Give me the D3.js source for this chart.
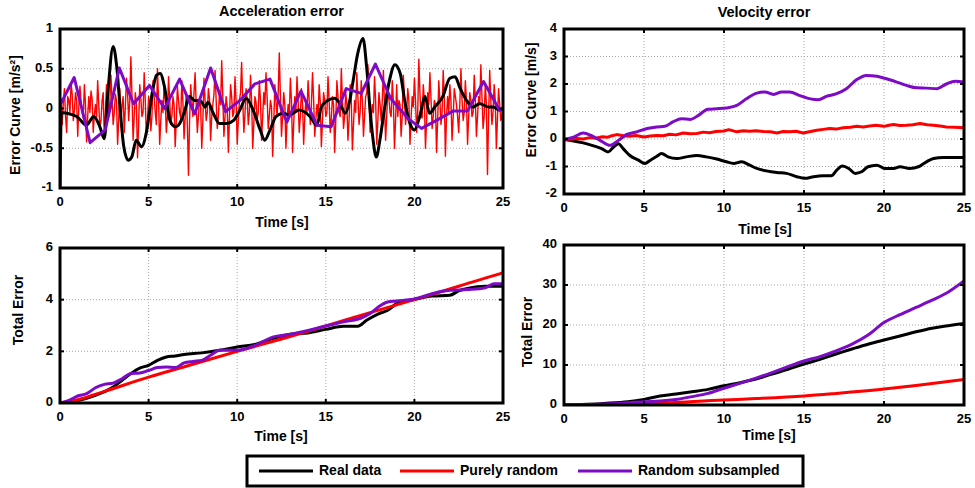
<!DOCTYPE html>
<html>
<head>
<meta charset="UTF-8">
<title>Error curves</title>
<script src="https://cdn.jsdelivr.net/npm/d3@7"></script>
<style>
  body { margin: 0; background: #fff; }
  text { font-family: "Liberation Sans", Arial, sans-serif; font-weight: bold; fill: #000; }
</style>
</head>
<body>
<div class="canvas"></div>
<script>
const seriesNames = ['Real data', 'Purely random', 'Random subsampled']
const seriesColors = ['#000000', '#ff0000', '#7d0ac4']
const timeTicks = [0, 5, 10, 15, 20, 25]

// acceleration error, [time, value]
const accReal = [[0,-1],[0.08,-0.05],[0.38,-0.06],[0.94,-0.1],[1.5,-0.21],[1.9,-0.1],[2.25,-0.23],[2.5,-0.38],[2.7,0.19],[3.0,0.78],[3.2,0.53],[3.4,-0.02],[3.6,-0.48],[3.85,-0.65],[4.05,-0.61],[4.3,-0.4],[4.6,-0.48],[4.9,-0.27],[5.2,0.19],[5.45,0.42],[5.65,0.44],[5.9,0.27],[6.2,-0.15],[6.5,-0.23],[6.75,-0.19],[7.05,-0.02],[7.3,0.15],[7.6,0.1],[7.9,0.1],[8.2,0.02],[8.35,0.08],[8.65,-0.06],[9.0,-0.19],[9.4,-0.19],[9.8,-0.15],[10.15,-0.02],[10.5,0.13],[10.9,-0.02],[11.3,-0.27],[11.55,-0.4],[11.85,-0.27],[12.2,-0.1],[12.6,-0.06],[12.95,-0.08],[13.5,-0.02],[14.1,-0.1],[14.5,-0.21],[14.75,0.02],[15.1,0.1],[15.5,0.13],[15.8,0.06],[16.1,-0.06],[16.35,0.1],[16.55,0.36],[16.8,0.69],[17.1,0.88],[17.3,0.53],[17.5,-0.02],[17.65,-0.36],[17.85,-0.61],[18.05,-0.4],[18.3,-0.02],[18.6,0.36],[18.9,0.55],[19.2,0.44],[19.45,0.1],[19.75,-0.19],[20.0,-0.27],[20.3,-0.1],[20.6,0.15],[20.85,-0.06],[21.15,0.02],[21.6,0.15],[22.0,0.38],[22.3,0.4],[22.55,0.27],[22.95,0.1],[23.3,0.02],[23.7,0.06],[24.15,0.02],[24.45,0.02],[24.8,-0.02],[25,0]]
// purely random acceleration, one value every 0.0625 s
const accRandomStep = 0.0625
const accRandom = [0.05,0.12,-0.2,0.08,0.25,-0.1,-0.3,0.15,0.1,-0.05,0.32,0.18,-0.15,-0.02,0.2,0.1,-0.35,
  0.02,0.28,0.1,-0.05,-0.12,0.3,0.05,-0.42,-0.1,0.15,-0.05,0.22,0.12,-0.3,-0.08,0.05,
  -0.12,0.35,0.05,-0.25,-0.15,0.1,0.2,-0.38,-0.05,0.3,0.15,-0.1,0.08,0.42,0.1,-0.2,
  -0.05,0.18,0.1,-0.45,-0.15,0.25,-0.2,0.05,0.15,-0.3,0.02,0.38,0.2,-0.15,0.1,0.65,
  0.15,-0.4,-0.1,0.2,0.05,-0.62,-0.2,0.3,0.12,-0.1,-0.05,0.45,0.1,-0.35,-0.15,0.15,
  0.05,-0.28,-0.1,0.35,0.15,-0.05,-0.2,0.5,0.1,-0.45,-0.15,0.1,-0.05,0.3,0.12,-0.3,
  -0.1,0.4,0.12,-0.2,-0.1,0.15,0.05,-0.48,-0.15,0.28,0.1,-0.05,-0.12,0.35,0.08,-0.38,
  -0.12,0.2,-0.2,-0.84,-0.15,0.3,0.1,-0.1,0.2,0.45,0.05,-0.3,-0.1,0.12,0.02,-0.5,
  -0.15,0.38,0.1,-0.15,-0.05,0.25,0.12,-0.4,-0.1,0.05,0.18,0.48,0.1,-0.25,-0.1,0.2,
  0.05,0.6,0.15,-0.35,-0.1,0.15,0.02,-0.55,-0.12,0.3,0.15,-0.1,-0.05,0.4,0.1,-0.45,
  -0.15,0.1,0.2,0.58,0.1,-0.3,-0.08,0.25,0.12,-0.2,-0.05,0.42,0.1,-0.5,-0.2,0.15,
  0.08,-0.15,-0.05,0.35,0.1,-0.4,-0.1,0.2,0.05,0.45,0.15,-0.25,-0.1,0.1,0.02,-0.6,
  -0.2,0.3,0.1,-0.1,0.2,0.7,0.15,-0.35,-0.1,0.2,0.05,-0.5,-0.15,0.05,-0.1,0.38,
  0.1,-0.55,-0.2,0.15,-0.05,0.4,0.1,-0.3,-0.1,0.25,0.05,-0.45,-0.12,0.1,-0.05,0.35,
  0.1,-0.2,0.05,0.45,0.12,-0.35,-0.15,0.05,-0.1,0.3,0.08,-0.48,-0.15,0.2,0.1,-0.1,
  -0.05,0.4,0.1,-0.3,-0.12,0.15,0.05,-0.55,-0.15,0.35,0.15,-0.05,-0.1,0.5,0.12,-0.25,
  -0.1,0.2,0.05,-0.4,-0.15,0.3,0.1,-0.52,-0.2,0.1,-0.05,0.45,0.15,-0.2,-0.05,0.35,
  0.1,-0.35,-0.1,0.15,0.2,0.55,0.12,-0.3,-0.15,0.05,-0.05,0.4,0.1,-0.45,-0.15,0.2,
  0.05,-0.15,0.1,0.48,0.05,-0.4,-0.1,0.25,0.12,-0.05,-0.1,0.35,0.1,-0.5,-0.15,0.3,
  -0.1,0.1,0.05,-0.35,-0.1,0.42,0.15,-0.2,-0.05,0.25,0.1,-0.45,-0.12,0.15,0.02,0.38,
  0.1,-0.3,-0.05,0.62,0.2,-0.1,-0.12,0.3,0.1,-0.5,-0.15,0.2,0.05,0.45,0.12,-0.25,
  -0.1,0.1,0.05,-0.55,-0.15,0.35,0.1,-0.2,-0.05,0.48,0.15,-0.6,-0.1,0.15,-0.05,0.3,
  0.1,-0.4,-0.12,0.25,0.15,0.05,-0.1,-0.3,0.05,0.5,0.12,-0.15,-0.05,0.35,0.1,-0.45,
  -0.1,0.2,0.1,-0.1,-0.05,0.42,0.12,-0.35,-0.1,0.15,0.05,0.55,0.15,-0.25,-0.1,0.3,
  0.05,-0.83,-0.1,0.48,0.1,-0.2,-0.05,0.3,0.1,-0.5,-0.12,0.25,0.05,-0.15,-0.1,0.05]
const accSub = [[0,0.04],[0.8,0.39],[1.7,-0.43],[2.55,-0.27],[3.35,0.51],[4.15,0.06],[5.05,0.29],[5.9,0],[6.75,0.37],[7.6,-0.07],[8.5,0.51],[9.35,-0.04],[10.15,0.1],[11.0,0.31],[11.85,0.37],[12.8,-0.17],[13.6,0.22],[14.5,-0.21],[15.3,-0.23],[16.15,0.25],[17.0,0.19],[17.8,0.56],[18.65,0.13],[19.65,-0.13],[20.4,-0.25],[21.25,-0.15],[22.2,-0.03],[23.0,-0.03],[23.9,0.34],[24.8,-0.02],[25,0]]

// velocity error
const velReal = [[0,-0.02],[0.6,-0.07],[1.2,-0.14],[1.85,-0.25],[2.35,-0.35],[2.75,-0.47],[3.1,-0.29],[3.4,-0.17],[3.7,-0.35],[4.1,-0.59],[4.65,-0.77],[5.05,-0.89],[5.4,-0.77],[5.8,-0.63],[6.1,-0.53],[6.5,-0.65],[7.05,-0.71],[7.65,-0.65],[8.3,-0.6],[8.9,-0.65],[9.55,-0.73],[10.15,-0.83],[10.6,-0.89],[11.1,-0.83],[11.6,-0.95],[12.05,-1.07],[12.65,-1.16],[13.3,-1.22],[13.9,-1.25],[14.55,-1.37],[15.05,-1.43],[15.6,-1.37],[16.2,-1.34],[16.7,-1.34],[17.05,-1.13],[17.4,-0.98],[17.8,-1.07],[18.2,-1.25],[18.6,-1.19],[19.0,-1.01],[19.55,-0.95],[20.05,-1.07],[20.6,-1.07],[21.0,-1.01],[21.6,-1.07],[22.15,-1.01],[22.65,-0.83],[23.1,-0.71],[23.7,-0.67],[24.35,-0.67],[25,-0.67]]
const velRandom = [[0,0],[0.4,-0.01],[0.8,0.02],[1.2,0.0],[1.6,0.05],[2.0,0.03],[2.4,0.08],[2.7,0.06],[3.0,0.12],[3.3,0.16],[3.7,0.12],[4.1,0.1],[4.5,0.13],[5.0,0.07],[5.4,0.11],[5.8,0.13],[6.2,0.12],[6.6,0.17],[7.0,0.15],[7.45,0.22],[7.9,0.19],[8.3,0.2],[8.7,0.25],[9.1,0.23],[9.5,0.27],[10.0,0.29],[10.3,0.34],[10.8,0.26],[11.2,0.3],[11.6,0.28],[12.0,0.3],[12.45,0.27],[12.9,0.26],[13.3,0.22],[13.7,0.27],[14.1,0.26],[14.5,0.28],[14.95,0.22],[15.4,0.27],[15.8,0.32],[16.2,0.35],[16.6,0.38],[17.0,0.36],[17.45,0.41],[17.9,0.43],[18.3,0.46],[18.7,0.44],[19.1,0.47],[19.5,0.5],[20.0,0.46],[20.3,0.5],[20.6,0.53],[21.0,0.49],[21.4,0.5],[21.8,0.52],[22.25,0.56],[22.7,0.52],[23.1,0.5],[23.5,0.47],[23.9,0.44],[24.4,0.43],[25,0.41]]
const velSub = [[0,-0.02],[0.6,0.07],[1.2,0.22],[1.7,0.13],[2.25,-0.05],[2.9,-0.23],[3.4,-0.05],[3.9,0.16],[4.55,0.26],[5.2,0.38],[5.8,0.44],[6.3,0.46],[6.8,0.62],[7.35,0.74],[7.9,0.71],[8.4,0.86],[9.0,1.08],[9.55,1.1],[10.15,1.13],[10.8,1.22],[11.4,1.46],[12.05,1.67],[12.55,1.71],[13.1,1.62],[13.6,1.71],[14.1,1.71],[14.75,1.58],[15.4,1.46],[15.9,1.43],[16.4,1.55],[17.0,1.64],[17.65,1.83],[18.3,2.16],[18.9,2.31],[19.55,2.28],[20.15,2.19],[20.8,2.07],[21.4,1.95],[22.05,1.86],[22.65,1.85],[23.3,1.83],[23.9,2.0],[24.45,2.1],[25,2.07]]

// total acceleration error
const totAccReal = [[0,0],[1,0.1],[2,0.3],[3,0.62],[3.5,0.88],[4,1.14],[4.5,1.35],[5,1.46],[5.5,1.65],[6,1.78],[6.5,1.82],[7,1.88],[8,1.94],[9,2.04],[10,2.17],[11,2.27],[12,2.49],[13,2.66],[14,2.71],[15,2.85],[16,2.97],[16.8,2.97],[17.3,3.2],[18,3.46],[18.5,3.59],[19,3.85],[20,4.01],[21,4.14],[22,4.17],[22.5,4.34],[23,4.43],[24,4.52],[25,4.52]]
const totAccRandom = [[0,0],[1,0.13],[2.5,0.45],[5,1.0],[7.5,1.5],[10,2.0],[12.5,2.48],[15,2.98],[17.5,3.5],[20,4.0],[22.5,4.52],[24.8,5.0],[25,5.04]]
const totAccSub = [[0,0],[0.5,0.1],[1,0.27],[1.5,0.36],[2,0.59],[2.5,0.72],[3,0.77],[3.5,0.94],[4,1.14],[4.5,1.16],[5,1.26],[5.5,1.37],[6,1.39],[6.5,1.37],[7,1.55],[7.5,1.61],[8,1.65],[8.5,1.85],[9,2.04],[10,2.04],[11,2.23],[12,2.55],[13,2.66],[14,2.81],[15,2.98],[16,3.14],[17,3.29],[17.5,3.46],[18,3.74],[18.5,3.91],[19,3.95],[20,4.03],[21,4.23],[22,4.36],[23,4.39],[24,4.46],[24.5,4.62],[25,4.62]]

// total velocity error
const totVelReal = [[0,0],[2.5,0.4],[4,0.8],[5,1.4],[6,2.25],[7,2.75],[8,3.3],[9,3.9],[10,4.8],[11,5.6],[12,6.5],[13,7.75],[14,8.9],[15,10.25],[16,11.4],[17,12.75],[18,14.0],[19,15.2],[20,16.25],[21,17.25],[22,18.3],[23,19.2],[24,19.8],[25,20.4]]
const totVelRandom = [[0,0],[5,0.3],[10,1.25],[12,1.6],[15,2.25],[17,2.9],[20,4.0],[22,4.9],[25,6.4]]
const totVelSub = [[0,0],[3,0.3],[5,0.8],[6,1.0],[7,1.4],[8,2.1],[9,2.9],[10,4.2],[11,5.4],[12,6.7],[13,8.1],[14,9.6],[15,11.0],[16,12.1],[17,13.5],[18,15.2],[19,17.5],[20,20.6],[21,22.6],[22,24.4],[23,26.2],[24,28.2],[25,31.0]]

const svg = d3.select('.canvas')
  .append('svg')
  .attr('width', 975)
  .attr('height', 488)

function panel(p) {
  const x = d3.scaleLinear().domain([0, 25]).range([p.x, p.x + p.w])
  const y = d3.scaleLinear().domain(p.yDomain).range([p.y + p.h, p.y])
  const g = svg.append('g')
  const clipId = 'clip' + p.id
  g.append('clipPath').attr('id', clipId)
    .append('rect').attr('x', p.x).attr('y', p.y).attr('width', p.w).attr('height', p.h)

  // dotted grid
  g.selectAll('.gx').data(timeTicks.slice(1, -1)).enter().append('line')
    .attr('x1', d => x(d)).attr('x2', d => x(d)).attr('y1', p.y).attr('y2', p.y + p.h)
    .attr('stroke', '#a8a8a8').attr('stroke-dasharray', '1,2')
  g.selectAll('.gy').data(p.yTicks.slice(1, -1)).enter().append('line')
    .attr('y1', d => y(d)).attr('y2', d => y(d)).attr('x1', p.x).attr('x2', p.x + p.w)
    .attr('stroke', '#a8a8a8').attr('stroke-dasharray', '1,2')

  const lines = g.append('g').attr('clip-path', `url(#${clipId})`)
  p.series.forEach(s => {
    const line = d3.line().x(d => x(d[0])).y(d => y(d[1])).curve(s.curve || d3.curveMonotoneX)
    lines.append('path').datum(s.data)
      .attr('fill', 'none')
      .attr('stroke', s.color)
      .attr('stroke-width', s.width || 3)
      .attr('stroke-linejoin', 'round')
      .attr('d', line)
  })

  // inward ticks
  const tk = g.append('g').attr('stroke', '#000').attr('stroke-width', 2)
  timeTicks.forEach(t => {
    tk.append('line').attr('x1', x(t)).attr('x2', x(t)).attr('y1', p.y + p.h).attr('y2', p.y + p.h - 4)
    tk.append('line').attr('x1', x(t)).attr('x2', x(t)).attr('y1', p.y).attr('y2', p.y + 4)
  })
  p.yTicks.forEach(v => {
    tk.append('line').attr('x1', p.x).attr('x2', p.x + 4).attr('y1', y(v)).attr('y2', y(v))
    tk.append('line').attr('x1', p.x + p.w).attr('x2', p.x + p.w - 4).attr('y1', y(v)).attr('y2', y(v))
  })

  g.append('rect').attr('x', p.x).attr('y', p.y).attr('width', p.w).attr('height', p.h)
    .attr('fill', 'none').attr('stroke', '#000').attr('stroke-width', 3)

  g.selectAll('.xt').data(timeTicks).enter().append('text')
    .attr('x', d => x(d)).attr('y', p.y + p.h + 15)
    .attr('text-anchor', 'middle').attr('dominant-baseline', 'middle')
    .style('font-size', '13px').text(d => d)
  g.selectAll('.yt').data(p.yTicks).enter().append('text')
    .attr('x', p.x - 7).attr('y', d => y(d))
    .attr('text-anchor', 'end').attr('dominant-baseline', 'middle')
    .style('font-size', '13px').text(d => d)

  if (p.title) {
    g.append('text').attr('x', p.x + p.w / 2).attr('y', p.titleY)
      .attr('text-anchor', 'middle').attr('dominant-baseline', 'middle')
      .style('font-size', '14.5px').text(p.title)
  }
  g.append('text').attr('x', p.xLabel[0]).attr('y', p.xLabel[1])
    .attr('text-anchor', 'middle').attr('dominant-baseline', 'middle')
    .style('font-size', '14px').text('Time [s]')
  g.append('text')
    .attr('transform', `translate(${p.yLabel[0]},${p.yLabel[1]}) rotate(-90)`)
    .attr('text-anchor', 'middle').attr('dominant-baseline', 'middle')
    .style('font-size', '14px').text(p.yLabelText)
}

const accRandomPts = accRandom.map((v, i) => [i * accRandomStep, v])

panel({ id: 'tl', x: 60, y: 29, w: 443, h: 159, yDomain: [-1, 1], yTicks: [-1, -0.5, 0, 0.5, 1],
  title: 'Acceleration error', titleY: 12, xLabel: [282, 223], yLabel: [16, 115], yLabelText: 'Error Curve [m/s²]',
  series: [
    { data: accRandomPts, color: seriesColors[1], width: 1.4, curve: d3.curveLinear },
    { data: accReal, color: seriesColors[0] },
    { data: accSub, color: seriesColors[2], curve: d3.curveLinear }
  ] })

panel({ id: 'tr', x: 564, y: 29, w: 400, h: 165, yDomain: [-2, 4], yTicks: [-2, -1, 0, 1, 2, 3, 4],
  title: 'Velocity error', titleY: 13, xLabel: [765, 230], yLabel: [532, 100], yLabelText: 'Error Curve [m/s]',
  series: [
    { data: velReal, color: seriesColors[0] },
    { data: velRandom, color: seriesColors[1], curve: d3.curveLinear },
    { data: velSub, color: seriesColors[2] }
  ] })

panel({ id: 'bl', x: 60, y: 248, w: 443, h: 155, yDomain: [0, 6], yTicks: [0, 2, 4, 6],
  xLabel: [281, 437], yLabel: [19, 310], yLabelText: 'Total Error',
  series: [
    { data: totAccReal, color: seriesColors[0] },
    { data: totAccRandom, color: seriesColors[1] },
    { data: totAccSub, color: seriesColors[2] }
  ] })

panel({ id: 'br', x: 564, y: 245, w: 400, h: 160, yDomain: [0, 40], yTicks: [0, 10, 20, 30, 40],
  xLabel: [769, 436], yLabel: [528, 332], yLabelText: 'Total Error',
  series: [
    { data: totVelReal, color: seriesColors[0] },
    { data: totVelRandom, color: seriesColors[1] },
    { data: totVelSub, color: seriesColors[2] }
  ] })

// legend
const lg = svg.append('g')
lg.append('rect').attr('x', 247).attr('y', 456).attr('width', 556).attr('height', 30)
  .attr('fill', '#fff').attr('stroke', '#000').attr('stroke-width', 3)
const legendX = [259, 400, 578]
seriesNames.forEach((name, i) => {
  lg.append('line').attr('x1', legendX[i]).attr('x2', legendX[i] + 54).attr('y1', 471).attr('y2', 471)
    .attr('stroke', seriesColors[i]).attr('stroke-width', 3)
  lg.append('text').attr('x', legendX[i] + 60).attr('y', 471)
    .attr('dominant-baseline', 'middle').style('font-size', '14px').text(name)
})
</script>
</body>
</html>
